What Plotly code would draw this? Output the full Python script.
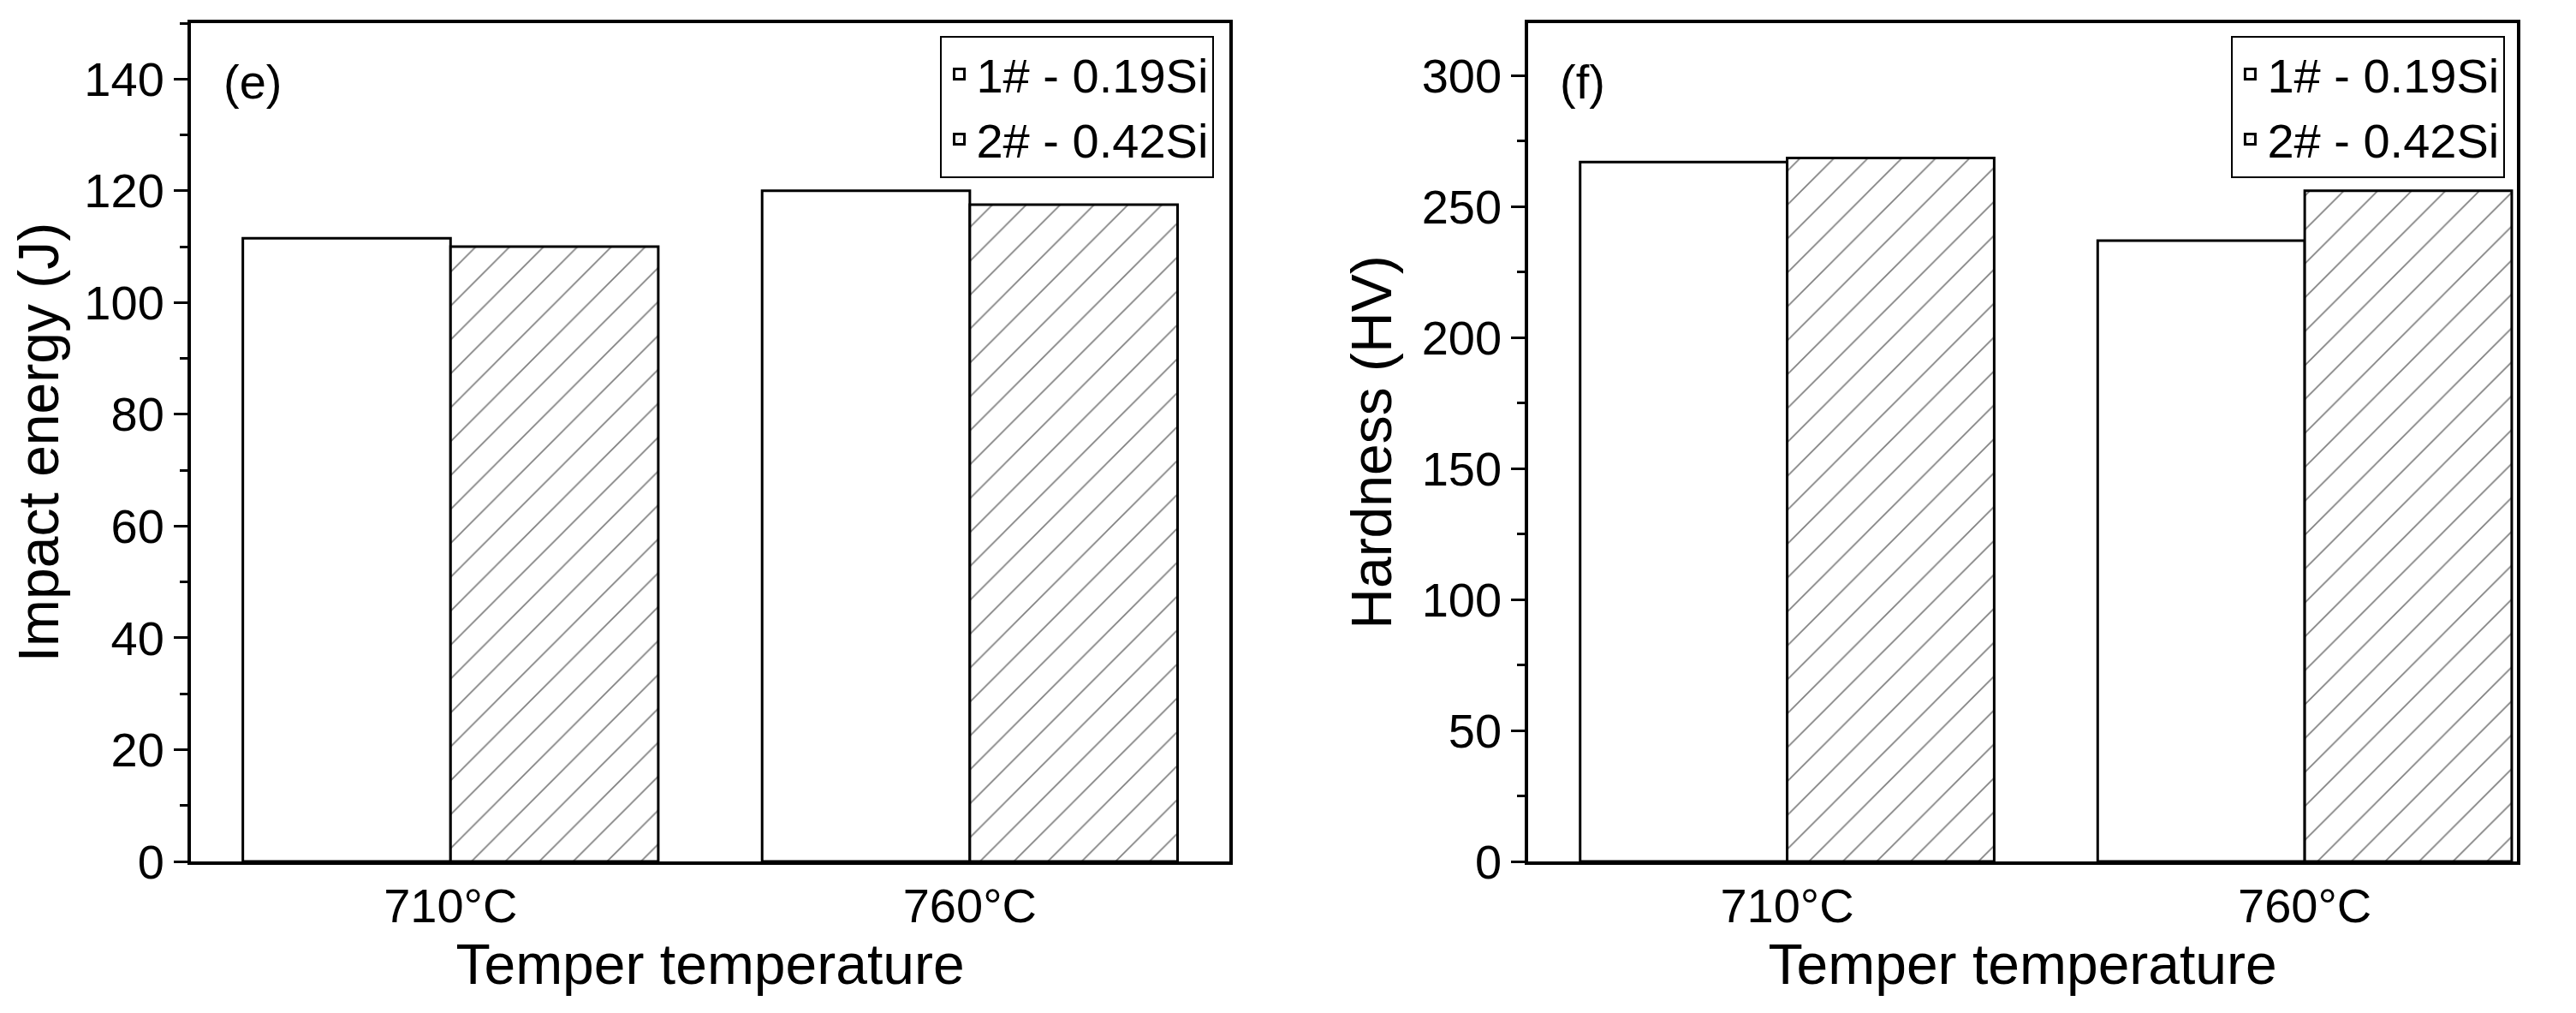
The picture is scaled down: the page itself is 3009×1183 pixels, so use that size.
import plotly.graph_objects as go
from plotly.subplots import make_subplots

# data
temps = ['710°C', '760°C']
series_names = ['1# - 0.19Si', '2# - 0.42Si']
impact_1 = [111.5, 120.0]
impact_2 = [110.0, 117.5]
hard_1 = [267.0, 237.0]
hard_2 = [268.5, 256.0]

FONT = 'Liberation Sans Narrow, Liberation Sans, Arial'
W = 0.4
xpos = list(range(len(temps)))

fig = make_subplots(rows=1, cols=2)

panels = [(impact_1, impact_2, 1), (hard_1, hard_2, 2)]
for s1, s2, col in panels:
    lg = 'legend' if col == 1 else 'legend2'
    fig.add_trace(go.Bar(
        x=xpos, y=s1, width=W, offset=-W, name=series_names[0],
        marker=dict(color='white', line=dict(color='black', width=3)),
        legend=lg), row=1, col=col)
    fig.add_trace(go.Bar(
        x=xpos, y=s2, width=W, offset=0, name=series_names[1],
        marker=dict(color='white', line=dict(color='black', width=3),
                    pattern=dict(shape='/', fgcolor='black', bgcolor='white',
                                 size=28, solidity=0.06)),
        legend=lg), row=1, col=col)

axis_common = dict(showline=True, linecolor='black', linewidth=4, mirror=True,
                   showgrid=False, zeroline=False,
                   tickfont=dict(family=FONT, size=56, color='black'))
title_font = dict(family=FONT, size=66, color='black')

fig.update_xaxes(tickvals=xpos, ticktext=temps, ticks='',
                 title=dict(text='Temper temperature', standoff=10, font=title_font),
                 **axis_common)
fig.update_xaxes(range=[-0.5, 1.5], domain=[0, 0.4465], row=1, col=1)
fig.update_xaxes(range=[-0.5, 1.41], domain=[0.575, 1.0], row=1, col=2)
fig.update_yaxes(ticks='outside', ticklen=16, tickwidth=3, tickcolor='black',
                 minor=dict(ticks='outside', ticklen=9, tickwidth=3, tickcolor='black'),
                 **axis_common)
fig.update_yaxes(range=[0, 150], dtick=20, minor_dtick=10, row=1, col=1,
                 title=dict(text='Impact energy (J)', standoff=15, font=title_font))
fig.update_yaxes(range=[0, 320], dtick=50, minor_dtick=25, row=1, col=2,
                 title=dict(text='Hardness (HV)', standoff=15, font=title_font))

leg = dict(xanchor='right', yanchor='top', y=0.985, bgcolor='white',
           bordercolor='black', borderwidth=2, tracegroupgap=0,
           font=dict(family=FONT, size=56, color='black'))

fig.update_layout(
    barmode='overlay',
    width=3009, height=1183,
    paper_bgcolor='white', plot_bgcolor='white',
    margin=dict(l=215, r=77, t=19, b=185),
    legend=dict(x=0.44, **leg),
    legend2=dict(x=0.995, **leg),
)

for txt, xref in [('(e)', 'x domain'), ('(f)', 'x2 domain')]:
    fig.add_annotation(x=0.03, y=0.93, xref=xref, yref='paper', text=txt,
                       showarrow=False, xanchor='left', yanchor='middle',
                       font=dict(family=FONT, size=56, color='black'))

fig.write_html('out.html')
